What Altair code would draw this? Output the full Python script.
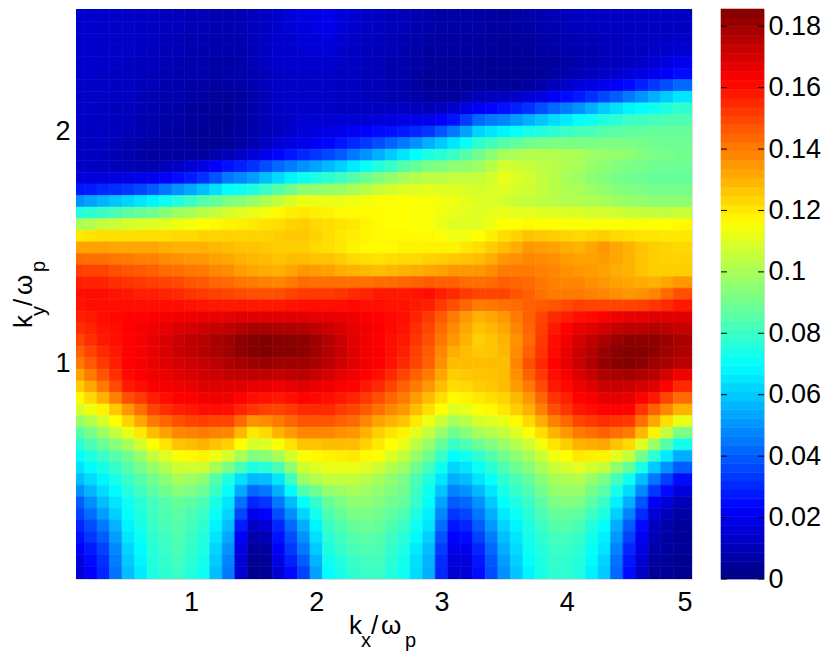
import altair as alt
import pandas as pd
import numpy as np

# ---------------- data ----------------
kx_centers = [0.1, 0.2, 0.3, 0.4, 0.5, 0.6, 0.7, 0.8, 0.9, 1.0,
              1.1, 1.2, 1.3, 1.4, 1.5, 1.6, 1.7, 1.8, 1.9, 2.0,
              2.1, 2.2, 2.3, 2.4, 2.5, 2.6, 2.7, 2.8, 2.9, 3.0,
              3.1, 3.2, 3.3, 3.4, 3.5, 3.6, 3.7, 3.8, 3.9, 4.0,
              4.1, 4.2, 4.3, 4.4, 4.5, 4.6, 4.7, 4.8, 4.9]
ky_centers = [2.5, 2.45, 2.4, 2.35, 2.3, 2.25, 2.2, 2.15, 2.1, 2.05,
              2.0, 1.95, 1.9, 1.85, 1.8, 1.75, 1.7, 1.65, 1.6, 1.55,
              1.5, 1.45, 1.4, 1.35, 1.3, 1.25, 1.2, 1.15, 1.1, 1.05,
              1.0, 0.95, 0.9, 0.85, 0.8, 0.75, 0.7, 0.65, 0.6, 0.55,
              0.5, 0.45, 0.4, 0.35, 0.3, 0.25, 0.2, 0.15, 0.1]

# one list per kx column, values from ky = 2.5 (top) down to ky = 0.1 (bottom)
c_0_1 = [.014, .014, .014, .014, .014, .014, .014, .013, .013, .013,
         .013, .013, .013, .013, .016, .027, .050, .076, .100, .120,
         .133, .143, .151, .157, .160, .159, .157, .154, .150, .145,
         .140, .133, .125, .117, .108, .097, .085, .077, .070, .064,
         .058, .049, .040, .035, .030, .026, .022, .018, .015]
c_0_2 = [.014, .014, .014, .014, .014, .014, .013, .013, .013, .012,
         .012, .012, .012, .012, .016, .028, .053, .078, .102, .121,
         .133, .142, .150, .156, .160, .160, .158, .156, .154, .150,
         .146, .140, .132, .123, .113, .102, .091, .083, .075, .069,
         .063, .056, .049, .043, .037, .033, .028, .025, .022]
c_0_3 = [.014, .014, .014, .014, .014, .013, .013, .013, .012, .012,
         .012, .012, .011, .012, .017, .030, .056, .080, .105, .122,
         .133, .142, .150, .156, .160, .160, .160, .159, .158, .155,
         .152, .147, .140, .130, .118, .108, .098, .089, .080, .074,
         .068, .063, .058, .052, .045, .040, .035, .032, .030]
c_0_4 = [.013, .013, .013, .013, .013, .012, .012, .012, .011, .011,
         .011, .010, .009, .011, .017, .031, .059, .083, .106, .122,
         .132, .141, .148, .154, .159, .160, .161, .160, .160, .158,
         .157, .154, .149, .139, .126, .116, .105, .094, .085, .079,
         .074, .069, .065, .061, .056, .052, .048, .046, .044]
c_0_5 = [.013, .013, .013, .013, .012, .012, .012, .012, .011, .011,
         .010, .009, .008, .010, .018, .033, .062, .086, .108, .122,
         .132, .140, .147, .153, .158, .160, .162, .162, .162, .162,
         .162, .161, .158, .148, .135, .124, .112, .100, .090, .085,
         .080, .076, .072, .070, .068, .065, .062, .060, .058]
c_0_6 = [.012, .012, .012, .012, .011, .011, .011, .010, .010, .009,
         .009, .008, .007, .009, .019, .036, .065, .088, .109, .122,
         .132, .139, .146, .152, .157, .160, .162, .164, .164, .164,
         .164, .163, .160, .152, .142, .132, .120, .108, .097, .091,
         .085, .081, .077, .075, .074, .071, .069, .068, .066]
c_0_7 = [.012, .012, .012, .011, .011, .010, .010, .009, .009, .008,
         .008, .007, .006, .009, .020, .040, .068, .090, .110, .122,
         .132, .139, .145, .151, .157, .160, .163, .165, .167, .167,
         .166, .165, .163, .157, .150, .140, .128, .116, .105, .097,
         .090, .086, .082, .081, .080, .078, .077, .076, .075]
c_0_8 = [.011, .011, .011, .010, .010, .009, .009, .008, .008, .007,
         .007, .006, .006, .010, .022, .045, .072, .094, .111, .122,
         .131, .137, .143, .150, .156, .160, .164, .167, .169, .169,
         .168, .166, .164, .160, .154, .144, .133, .121, .110, .102,
         .095, .090, .085, .084, .083, .081, .080, .079, .078]
c_0_9 = [.011, .011, .010, .010, .009, .009, .008, .008, .007, .007,
         .006, .006, .006, .012, .025, .050, .076, .098, .113, .123,
         .130, .136, .142, .149, .155, .160, .165, .169, .172, .172,
         .170, .168, .165, .162, .157, .148, .138, .127, .115, .107,
         .100, .094, .088, .086, .085, .084, .083, .082, .080]
c_1_0 = [.010, .010, .009, .009, .008, .008, .007, .007, .006, .006,
         .005, .005, .006, .015, .028, .054, .080, .100, .114, .123,
         .130, .135, .141, .147, .153, .159, .165, .170, .174, .174,
         .171, .169, .166, .163, .158, .150, .139, .128, .117, .107,
         .098, .092, .086, .083, .082, .080, .079, .078, .076]
c_1_1 = [.010, .010, .009, .009, .008, .008, .007, .006, .005, .005,
         .004, .004, .006, .018, .032, .058, .085, .103, .116, .124,
         .130, .135, .140, .146, .152, .159, .166, .172, .176, .176,
         .173, .171, .168, .165, .160, .151, .140, .130, .118, .107,
         .095, .089, .083, .080, .078, .076, .075, .073, .072]
c_1_2 = [.009, .009, .008, .008, .007, .007, .006, .005, .004, .004,
         .004, .004, .008, .022, .038, .064, .088, .105, .117, .124,
         .129, .133, .138, .144, .151, .158, .166, .173, .178, .178,
         .175, .172, .168, .165, .160, .150, .139, .127, .113, .100,
         .085, .080, .074, .071, .068, .065, .062, .060, .058]
c_1_3 = [.009, .009, .008, .008, .007, .007, .006, .005, .004, .004,
         .004, .005, .010, .026, .045, .070, .092, .108, .118, .124,
         .128, .132, .137, .143, .150, .158, .167, .174, .180, .180,
         .177, .173, .168, .165, .160, .150, .138, .124, .108, .092,
         .075, .070, .065, .062, .058, .054, .050, .047, .045]
c_1_4 = [.010, .010, .009, .009, .008, .008, .007, .006, .006, .006,
         .006, .007, .013, .029, .048, .072, .094, .110, .119, .124,
         .127, .130, .134, .141, .149, .158, .168, .176, .183, .183,
         .179, .174, .168, .162, .156, .143, .129, .116, .100, .083,
         .064, .054, .044, .036, .028, .022, .018, .016, .015]
c_1_5 = [.011, .011, .011, .010, .010, .009, .009, .008, .008, .008,
         .008, .009, .016, .032, .052, .075, .097, .112, .120, .124,
         .127, .129, .132, .140, .148, .158, .168, .178, .185, .185,
         .180, .174, .167, .160, .153, .136, .120, .108, .093, .075,
         .057, .042, .030, .020, .013, .008, .005, .004, .003]
c_1_6 = [.012, .012, .012, .012, .012, .011, .011, .010, .010, .010,
         .010, .012, .020, .037, .058, .080, .101, .114, .121, .124,
         .126, .128, .131, .139, .148, .158, .168, .178, .186, .186,
         .181, .174, .166, .159, .151, .137, .123, .110, .095, .077,
         .058, .045, .033, .023, .015, .010, .006, .005, .004]
c_1_7 = [.014, .014, .014, .014, .014, .013, .013, .013, .012, .012,
         .012, .015, .024, .042, .063, .085, .105, .117, .122, .125,
         .125, .127, .130, .138, .148, .158, .168, .177, .184, .184,
         .180, .173, .165, .158, .150, .140, .130, .115, .100, .083,
         .065, .055, .045, .037, .030, .026, .022, .018, .015]
c_1_8 = [.016, .016, .015, .014, .014, .013, .013, .013, .013, .013,
         .014, .017, .027, .046, .068, .090, .109, .119, .124, .126,
         .125, .128, .132, .140, .150, .159, .168, .177, .184, .184,
         .180, .174, .167, .160, .152, .144, .134, .121, .108, .095,
         .081, .069, .057, .049, .042, .037, .033, .029, .025]
c_1_9 = [.018, .017, .016, .015, .014, .013, .013, .013, .014, .015,
         .016, .019, .030, .050, .072, .095, .113, .120, .125, .126,
         .125, .128, .135, .143, .152, .160, .168, .176, .183, .183,
         .180, .175, .168, .162, .155, .147, .138, .127, .115, .107,
         .098, .084, .070, .062, .055, .050, .045, .040, .035]
c_2_0 = [.019, .018, .017, .015, .014, .013, .013, .013, .013, .015,
         .017, .021, .033, .053, .075, .096, .112, .119, .123, .124,
         .123, .127, .134, .142, .152, .160, .167, .174, .180, .180,
         .178, .172, .166, .161, .155, .147, .138, .127, .117, .110,
         .102, .090, .079, .073, .068, .064, .060, .056, .053]
c_2_1 = [.020, .019, .018, .016, .014, .013, .013, .013, .013, .015,
         .018, .024, .036, .057, .078, .097, .112, .118, .122, .122,
         .122, .127, .133, .142, .152, .160, .167, .172, .176, .176,
         .175, .170, .165, .160, .155, .147, .138, .128, .118, .112,
         .105, .096, .088, .084, .080, .077, .075, .072, .070]
c_2_2 = [.017, .016, .015, .014, .013, .012, .012, .012, .012, .015,
         .019, .027, .040, .061, .081, .098, .112, .117, .121, .120,
         .120, .125, .131, .142, .153, .160, .166, .169, .172, .172,
         .171, .167, .163, .158, .152, .145, .136, .128, .119, .112,
         .105, .098, .092, .088, .084, .081, .079, .076, .074]
c_2_3 = [.015, .014, .013, .012, .012, .012, .012, .012, .012, .015,
         .021, .030, .045, .066, .085, .100, .113, .117, .120, .119,
         .118, .123, .130, .142, .155, .161, .165, .167, .168, .168,
         .168, .165, .162, .156, .150, .143, .135, .128, .120, .112,
         .105, .100, .095, .092, .088, .085, .083, .080, .078]
c_2_4 = [.013, .013, .012, .011, .011, .011, .011, .011, .012, .015,
         .023, .033, .050, .071, .089, .103, .114, .117, .118, .118,
         .117, .122, .129, .142, .156, .160, .163, .165, .165, .165,
         .165, .162, .158, .152, .146, .138, .130, .124, .117, .110,
         .103, .098, .095, .092, .089, .086, .084, .082, .080]
c_2_5 = [.012, .012, .011, .011, .010, .010, .010, .010, .012, .016,
         .025, .037, .055, .076, .093, .106, .115, .117, .117, .117,
         .117, .121, .128, .143, .158, .160, .162, .163, .163, .163,
         .163, .160, .155, .148, .142, .133, .125, .120, .115, .107,
         .100, .096, .093, .090, .088, .085, .083, .082, .080]
c_2_6 = [.011, .011, .010, .010, .009, .009, .009, .009, .012, .017,
         .026, .041, .060, .080, .096, .108, .115, .116, .116, .117,
         .117, .122, .129, .143, .158, .159, .161, .161, .160, .160,
         .159, .155, .150, .144, .138, .130, .121, .116, .110, .102,
         .096, .093, .090, .087, .084, .081, .079, .077, .076]
c_2_7 = [.010, .010, .009, .009, .008, .008, .008, .009, .012, .018,
         .028, .045, .065, .085, .100, .110, .116, .116, .116, .117,
         .118, .123, .130, .144, .158, .159, .160, .159, .158, .157,
         .155, .150, .145, .140, .135, .127, .118, .112, .105, .098,
         .092, .090, .088, .084, .080, .077, .075, .073, .072]
c_2_8 = [.009, .009, .008, .007, .007, .006, .006, .007, .011, .019,
         .030, .050, .070, .088, .102, .110, .115, .115, .115, .117,
         .118, .123, .131, .145, .159, .158, .156, .154, .153, .151,
         .150, .145, .140, .134, .128, .120, .111, .104, .097, .090,
         .083, .081, .079, .075, .072, .069, .066, .064, .063]
c_2_9 = [.008, .008, .007, .006, .006, .005, .004, .006, .010, .020,
         .033, .055, .075, .092, .104, .111, .115, .115, .115, .117,
         .118, .124, .132, .146, .160, .157, .152, .150, .148, .146,
         .145, .140, .135, .128, .122, .113, .105, .097, .090, .082,
         .075, .072, .070, .067, .065, .061, .058, .056, .055]
c_3_0 = [.007, .007, .006, .006, .005, .005, .004, .006, .012, .023,
         .039, .060, .077, .093, .104, .110, .114, .113, .112, .115,
         .118, .125, .133, .145, .157, .152, .146, .143, .141, .138,
         .136, .132, .128, .122, .116, .106, .097, .088, .080, .072,
         .065, .059, .053, .048, .043, .038, .034, .031, .030]
c_3_1 = [.007, .007, .006, .006, .005, .005, .004, .006, .014, .026,
         .045, .065, .080, .095, .105, .110, .113, .112, .110, .113,
         .118, .126, .135, .145, .155, .148, .140, .137, .135, .131,
         .128, .125, .122, .117, .110, .100, .090, .080, .070, .062,
         .055, .047, .040, .033, .027, .023, .020, .017, .015]
c_3_2 = [.007, .007, .006, .006, .005, .005, .004, .008, .018, .034,
         .053, .071, .085, .096, .105, .109, .111, .111, .110, .114,
         .120, .127, .135, .143, .152, .144, .135, .132, .130, .128,
         .128, .126, .123, .118, .112, .103, .094, .084, .073, .065,
         .058, .050, .042, .036, .030, .025, .020, .017, .016]
c_3_3 = [.007, .007, .006, .006, .005, .005, .005, .010, .022, .042,
         .062, .078, .090, .098, .105, .108, .110, .110, .110, .116,
         .122, .128, .135, .142, .150, .140, .130, .127, .125, .126,
         .128, .127, .125, .120, .115, .108, .100, .089, .078, .071,
         .065, .057, .050, .045, .040, .035, .030, .027, .025]
c_3_4 = [.006, .006, .005, .005, .004, .004, .005, .011, .024, .045,
         .065, .081, .095, .103, .108, .109, .109, .111, .113, .119,
         .125, .131, .137, .143, .150, .141, .132, .129, .127, .127,
         .128, .127, .126, .122, .117, .110, .102, .093, .084, .077,
         .071, .065, .060, .055, .051, .046, .042, .039, .037]
c_3_5 = [.006, .006, .005, .005, .004, .004, .005, .012, .026, .047,
         .068, .085, .100, .108, .112, .110, .108, .112, .116, .122,
         .128, .135, .140, .145, .150, .142, .135, .132, .130, .129,
         .128, .128, .128, .124, .120, .112, .105, .097, .090, .084,
         .078, .074, .070, .066, .062, .058, .055, .052, .050]
c_3_6 = [.007, .006, .005, .005, .004, .004, .005, .013, .029, .051,
         .071, .087, .101, .107, .110, .108, .106, .111, .116, .124,
         .131, .136, .140, .144, .147, .143, .140, .138, .136, .137,
         .138, .136, .134, .129, .125, .117, .110, .102, .095, .089,
         .083, .079, .075, .071, .068, .065, .063, .061, .059]
c_3_7 = [.008, .007, .006, .005, .004, .004, .006, .015, .032, .055,
         .074, .090, .102, .106, .108, .107, .105, .111, .117, .127,
         .135, .138, .140, .143, .145, .145, .145, .144, .143, .145,
         .148, .145, .140, .135, .130, .123, .115, .107, .100, .094,
         .088, .084, .080, .077, .075, .073, .072, .070, .068]
c_3_8 = [.009, .008, .007, .006, .005, .005, .008, .018, .037, .059,
         .076, .091, .102, .104, .105, .105, .104, .110, .116, .126,
         .134, .137, .139, .141, .142, .146, .150, .151, .152, .153,
         .155, .152, .149, .144, .139, .131, .122, .114, .106, .100,
         .094, .090, .086, .083, .080, .078, .076, .075, .074]
c_3_9 = [.010, .009, .008, .007, .006, .007, .010, .022, .042, .063,
         .078, .092, .102, .103, .103, .103, .103, .110, .116, .125,
         .133, .136, .138, .139, .140, .147, .155, .158, .160, .161,
         .162, .160, .158, .153, .148, .139, .130, .121, .113, .106,
         .100, .096, .092, .088, .085, .082, .080, .079, .078]
c_4_0 = [.011, .010, .009, .008, .007, .008, .013, .025, .046, .066,
         .080, .092, .101, .101, .100, .101, .102, .109, .115, .124,
         .131, .134, .136, .138, .140, .149, .157, .162, .165, .166,
         .167, .164, .161, .157, .153, .144, .135, .125, .116, .108,
         .101, .097, .093, .088, .085, .082, .080, .078, .078]
c_4_1 = [.012, .011, .010, .009, .008, .010, .016, .028, .050, .070,
         .082, .092, .100, .100, .098, .100, .102, .109, .115, .123,
         .130, .133, .135, .138, .140, .151, .160, .166, .170, .172,
         .172, .169, .165, .162, .158, .150, .140, .130, .120, .111,
         .102, .097, .092, .087, .083, .080, .078, .076, .075]
c_4_2 = [.012, .011, .010, .009, .009, .011, .018, .032, .055, .072,
         .083, .092, .098, .097, .095, .098, .101, .108, .115, .124,
         .132, .133, .134, .136, .139, .150, .161, .168, .174, .176,
         .177, .173, .168, .164, .160, .152, .142, .131, .119, .108,
         .097, .091, .086, .081, .076, .073, .071, .069, .067]
c_4_3 = [.012, .012, .011, .010, .010, .013, .020, .036, .060, .075,
         .085, .092, .097, .095, .093, .096, .100, .108, .115, .125,
         .135, .134, .133, .135, .138, .150, .163, .171, .178, .181,
         .182, .177, .172, .167, .162, .154, .145, .132, .118, .105,
         .092, .086, .080, .075, .070, .067, .065, .062, .060]
c_4_4 = [.012, .012, .011, .011, .011, .014, .022, .040, .064, .077,
         .086, .092, .096, .093, .091, .094, .098, .107, .115, .123,
         .132, .132, .131, .133, .136, .150, .165, .173, .181, .184,
         .184, .178, .172, .167, .162, .153, .142, .127, .111, .096,
         .082, .074, .067, .061, .055, .051, .047, .044, .042]
c_4_5 = [.012, .012, .012, .012, .012, .016, .025, .045, .068, .080,
         .087, .092, .095, .092, .090, .093, .097, .106, .115, .122,
         .130, .130, .130, .132, .135, .150, .166, .175, .183, .185,
         .185, .179, .172, .167, .162, .152, .140, .123, .105, .088,
         .072, .063, .055, .047, .040, .035, .030, .027, .025]
c_4_6 = [.012, .012, .012, .012, .013, .018, .029, .050, .070, .081,
         .087, .091, .093, .091, .089, .092, .096, .105, .115, .121,
         .127, .127, .127, .131, .136, .151, .167, .175, .183, .185,
         .183, .177, .170, .162, .153, .142, .129, .110, .091, .074,
         .058, .048, .038, .031, .025, .021, .018, .015, .013]
c_4_7 = [.012, .012, .012, .013, .015, .020, .033, .055, .072, .082,
         .088, .090, .092, .090, .088, .091, .095, .105, .116, .121,
         .125, .125, .125, .130, .138, .153, .168, .176, .183, .183,
         .180, .175, .168, .158, .145, .132, .118, .098, .078, .060,
         .045, .033, .022, .016, .012, .010, .008, .006, .005]
c_4_8 = [.012, .012, .012, .014, .017, .022, .037, .060, .075, .083,
         .088, .089, .091, .089, .088, .091, .095, .105, .116, .120,
         .124, .124, .125, .132, .143, .155, .168, .175, .181, .180,
         .178, .170, .162, .150, .138, .122, .105, .085, .066, .050,
         .035, .025, .016, .011, .008, .007, .006, .005, .004]
c_4_9 = [.012, .012, .013, .015, .020, .025, .042, .065, .078, .084,
         .088, .089, .090, .089, .088, .091, .095, .106, .117, .120,
         .123, .124, .125, .135, .148, .158, .168, .173, .178, .177,
         .175, .165, .155, .143, .130, .112, .092, .073, .055, .040,
         .025, .017, .010, .007, .005, .004, .004, .003, .003]

z_columns = [c_0_1, c_0_2, c_0_3, c_0_4, c_0_5, c_0_6, c_0_7, c_0_8, c_0_9, c_1_0,
             c_1_1, c_1_2, c_1_3, c_1_4, c_1_5, c_1_6, c_1_7, c_1_8, c_1_9, c_2_0,
             c_2_1, c_2_2, c_2_3, c_2_4, c_2_5, c_2_6, c_2_7, c_2_8, c_2_9, c_3_0,
             c_3_1, c_3_2, c_3_3, c_3_4, c_3_5, c_3_6, c_3_7, c_3_8, c_3_9, c_4_0,
             c_4_1, c_4_2, c_4_3, c_4_4, c_4_5, c_4_6, c_4_7, c_4_8, c_4_9]

x_tick_values = [1, 2, 3, 4, 5]
y_tick_values = [1, 2]
cbar_tick_values = [0, 0.02, 0.04, 0.06, 0.08, 0.1, 0.12, 0.14, 0.16, 0.18]
x_range = [0.082, 5.0]
y_range = [0.07, 2.53]
c_max = 0.1856


# ---------------- table ----------------
def edges(centers, lo, hi):
    e = [(centers[i] + centers[i + 1]) / 2 for i in range(len(centers) - 1)]
    if centers[0] < centers[-1]:
        return [lo - 0.01] + e + [hi + 0.01]
    return [hi + 0.01] + e + [lo - 0.01]


x_edges = edges(kx_centers, x_range[0], x_range[1])
y_edges = edges(ky_centers, y_range[0], y_range[1])
recs = []
for j, col in enumerate(z_columns[:len(kx_centers)]):
    for i, v in enumerate(col[:len(ky_centers)]):
        recs.append({"x0": x_edges[j], "x1": x_edges[j + 1],
                     "y0": y_edges[i + 1], "y1": y_edges[i], "v": v})
df = pd.DataFrame(recs)

lv = np.linspace(0, c_max, 65)
cb = pd.DataFrame({"lo": lv[:-1], "hi": lv[1:], "mid": (lv[:-1] + lv[1:]) / 2})
cbt = pd.DataFrame({"t": cbar_tick_values})

# ---------------- style ----------------
FONT = "Liberation Sans"
W, H = 616, 570
jet_dom = [0, c_max / 8, 3 * c_max / 8, 5 * c_max / 8, 7 * c_max / 8, c_max]
jet_rng = ["#000080", "#0000ff", "#00ffff", "#ffff00", "#ff0000", "#800000"]
cscale = alt.Scale(domain=jet_dom, range=jet_rng, interpolate="rgb", clamp=True)

heat = alt.Chart(df).mark_rect(clip=True, strokeWidth=0.6).encode(
    x=alt.X("x0:Q", scale=alt.Scale(domain=x_range, nice=False, zero=False),
            axis=alt.Axis(values=x_tick_values, title=None, ticks=False, domain=False,
                          grid=False, labelFontSize=27, labelPadding=10, labelFont=FONT,
                          labelColor="black", format="d")),
    x2="x1:Q",
    y=alt.Y("y0:Q", scale=alt.Scale(domain=y_range, nice=False, zero=False),
            axis=alt.Axis(values=y_tick_values, title=None, ticks=False, domain=False,
                          grid=False, labelFontSize=27, labelPadding=6, labelFont=FONT,
                          labelColor="black", format="d")),
    y2="y1:Q",
    color=alt.Color("v:Q", scale=cscale, legend=None),
    stroke=alt.Stroke("v:Q", scale=cscale, legend=None),
)


def piece(txt, x, y, size, angle=0):
    m = alt.Chart(pd.DataFrame({"t": [txt]})).mark_text(
        align="left", baseline="alphabetic", fontSize=size, font=FONT, color="black",
        angle=angle)
    return m.encode(text="t:N", x=alt.value(x), y=alt.value(y))


big, small = 26, 20
xt = [piece("k", 273, 625, big), piece("x", 285, 638, small), piece("/", 295, 625, big),
      piece("ω", 305, 625, big), piece("p", 329, 638, small)]
yb = -44
yt = [piece("k", yb, 319, big, 270), piece("y", yb + 13, 307, small, 270),
      piece("/", yb, 297, big, 270), piece("ω", yb, 286, big, 270),
      piece("p", yb + 13, 263, small, 270)]

main = alt.layer(heat, *xt, *yt).properties(width=W, height=H)

cb_axis = alt.Axis(orient="right", values=cbar_tick_values, format=".2~f", title=None,
                   ticks=False, domain=False, grid=False, labelFontSize=27,
                   labelPadding=4, labelFont=FONT, labelColor="black")
cb_scale = alt.Scale(domain=[0, c_max], nice=False, zero=False)
bar = alt.Chart(cb).mark_rect(strokeWidth=0.6).encode(
    y=alt.Y("lo:Q", scale=cb_scale, axis=cb_axis), y2="hi:Q",
    x=alt.value(0), x2=alt.value(43),
    color=alt.Color("mid:Q", scale=cscale, legend=None),
    stroke=alt.Stroke("mid:Q", scale=cscale, legend=None),
)
tl = alt.Chart(cbt).mark_rule(color="black", strokeWidth=1).encode(
    y=alt.Y("t:Q", scale=cb_scale, axis=cb_axis), x=alt.value(0), x2=alt.value(6))
tr = alt.Chart(cbt).mark_rule(color="black", strokeWidth=1).encode(
    y=alt.Y("t:Q", scale=cb_scale, axis=cb_axis), x=alt.value(37), x2=alt.value(43))
cbar = alt.layer(bar, tl, tr).properties(width=43, height=H)

chart = alt.hconcat(main, cbar, spacing=27).properties(
    padding={"left": 2, "top": 0, "right": 0, "bottom": 0}
).configure_view(stroke="black", strokeWidth=1.2).configure(background="white")

chart.save("out.html", embed_options={"renderer": "svg", "actions": False})
